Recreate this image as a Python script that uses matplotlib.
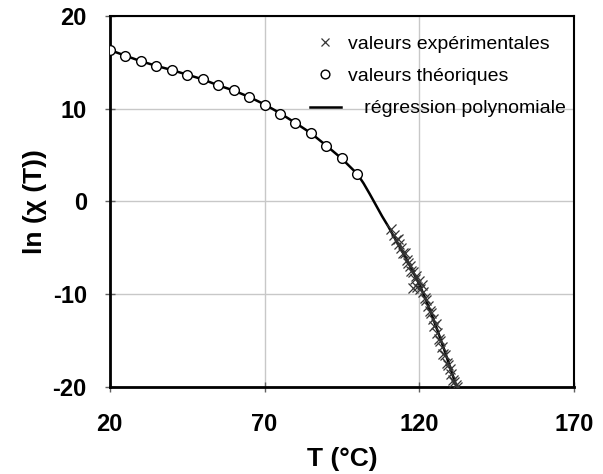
import numpy as np
import matplotlib
matplotlib.use('Agg')
import matplotlib.pyplot as plt

plt.rcParams['font.family'] = ['Liberation Sans', 'DejaVu Sans']
plt.rcParams['axes.unicode_minus'] = False

# theoretical values (circles)
t_theo = [20, 25, 30, 35, 40, 45, 50, 55, 60, 65, 70, 75, 80, 85, 90, 95, 100]
ln_theo = [16.3, 15.7, 15.1, 14.6, 14.2, 13.65, 13.2, 12.5, 11.95, 11.25,
           10.4, 9.45, 8.45, 7.4, 6.0, 4.7, 3.0]

# experimental values (crosses)
t_exp = [111.0, 111.8, 112.5, 113.0, 113.6, 114.2, 114.8, 115.3, 115.9, 116.4,
         117.0, 117.4, 118.0, 118.5, 119.0, 119.4, 119.8, 120.3, 120.8, 121.3,
         121.8, 122.3, 122.8, 123.3, 123.8, 124.3, 124.8, 125.3, 125.8, 126.3,
         126.8, 127.3, 127.8, 128.3, 128.8, 129.3, 129.8, 130.3, 130.8, 131.3,
         131.8, 132.3, 118.0]
ln_exp = [-3.0, -3.6, -4.2, -4.0, -4.6, -5.0, -5.6, -5.5, -6.3, -6.6,
          -7.0, -7.5, -7.6, -8.3, -8.0, -9.2, -8.6, -9.4, -9.0, -9.8,
          -10.4, -10.6, -11.2, -11.8, -12.0, -12.7, -13.4, -13.2, -14.2, -14.8,
          -15.0, -15.7, -16.4, -16.5, -17.4, -17.6, -18.0, -18.6, -19.2, -19.4,
          -19.8, -20.0, -9.3]

# polynomial regression curve
t_reg = [20, 25, 30, 35, 40, 45, 50, 55, 60, 65, 70, 75, 80, 85, 90, 95, 100,
         102, 104, 106, 108, 110, 112, 114, 116, 118, 120, 122, 124, 126, 128,
         130, 132, 133]
ln_reg = [16.3, 15.7, 15.1, 14.6, 14.15, 13.65, 13.15, 12.5, 11.95, 11.25,
          10.45, 9.5, 8.45, 7.35, 6.0, 4.6, 2.95, 1.95, 0.8, -0.4, -1.6,
          -2.7, -3.9, -5.1, -6.3, -7.6, -8.9, -10.5, -12.2, -14.0, -15.9,
          -17.9, -19.9, -21.0]

fig = plt.figure(figsize=(6.03, 4.74), dpi=100)
ax = fig.add_axes([0.182, 0.183, 0.77, 0.784])

ax.grid(True, color='#c8c8c8', linewidth=1)
ax.set_axisbelow(True)

ax.plot(t_reg, ln_reg, color='black', linewidth=1.8, label='   régression polynomiale', zorder=2)
ax.plot(t_exp, ln_exp, linestyle='none', marker='x', markersize=7, markeredgewidth=0.9,
        color='#353535', label='valeurs expérimentales', zorder=3)
ax.plot(t_theo, ln_theo, linestyle='none', marker='o', markersize=7, markerfacecolor='white',
        markeredgecolor='black', markeredgewidth=1, label='valeurs théoriques', zorder=4)

ax.set_xlim(20, 170)
ax.set_ylim(-20, 20)
ax.set_xticks([20, 70, 120, 170])
ax.set_yticks([-20, -10, 0, 10, 20])

for side in ['left', 'bottom']:
    ax.spines[side].set_linewidth(2)
for side in ['top', 'right']:
    ax.spines[side].set_linewidth(1.5)

ax.tick_params(direction='inout', length=7, width=1, color='#606060', labelsize=17)
ax.tick_params(axis='x', pad=15)
ax.tick_params(axis='y', pad=13)
for lab in ax.get_xticklabels() + ax.get_yticklabels():
    lab.set_fontweight('bold')

ax.set_xlabel('T (°C)', fontsize=19, fontweight='bold', labelpad=8)
ax.set_ylabel('ln (χ (T))', fontsize=19, fontweight='bold', labelpad=4)

handles, labels = ax.get_legend_handles_labels()
order = [1, 2, 0]
ax.legend([handles[i] for i in order], [labels[i] for i in order],
          loc='upper right', bbox_to_anchor=(1.0, 0.968), frameon=False,
          fontsize=14, handlelength=1.6, handletextpad=0.4, labelspacing=0.75,
          borderaxespad=0, markerscale=0.9)

plt.savefig('out.png', dpi=100)
